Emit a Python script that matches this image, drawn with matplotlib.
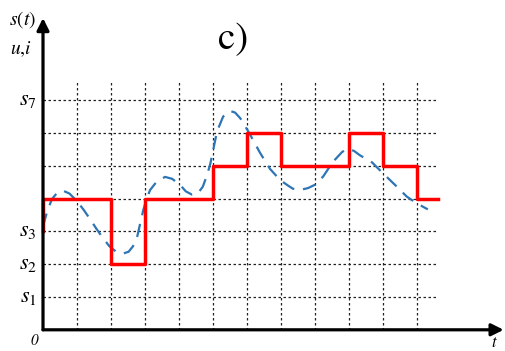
import matplotlib
matplotlib.use('Agg')
import matplotlib.pyplot as plt

# quantized signal: level held on each unit interval (starts from s3)
step_start = 3
step_edges = [0, 1, 2, 3, 4, 5, 6, 7, 8, 9, 10, 11, 11.62]
step_levels = [4, 4, 2, 4, 4, 5, 6, 5, 5, 6, 5, 4]

# analog signal
sig_t = [0.00, 0.12, 0.26, 0.42, 0.59, 0.78, 1.00, 1.20, 1.38, 1.57, 1.76,
         1.95, 2.15, 2.35, 2.52, 2.65, 2.76, 2.85, 2.95, 3.05, 3.15, 3.34,
         3.59, 3.80, 4.03, 4.20, 4.38, 4.55, 4.70, 4.82, 4.92, 5.02, 5.12,
         5.30, 5.50, 5.65, 5.80, 5.95, 6.09, 6.38, 6.68, 6.97, 7.20, 7.35,
         7.56, 7.80, 8.00, 8.24, 8.53, 8.80, 8.97, 9.15, 9.32, 9.68, 9.97,
         10.35, 10.70, 11.00, 11.32]
sig_v = [3.15, 3.60, 3.98, 4.18, 4.24, 4.15, 3.92, 3.65, 3.38, 3.08, 2.80,
         2.55, 2.38, 2.32, 2.38, 2.55, 2.79, 3.20, 3.65, 4.00, 4.26, 4.51,
         4.66, 4.60, 4.42, 4.22, 4.12, 4.15, 4.36, 4.70, 5.05, 5.55, 6.05,
         6.50, 6.67, 6.62, 6.45, 6.20, 5.95, 5.40, 4.90, 4.57, 4.40, 4.30,
         4.26, 4.32, 4.42, 4.67, 5.12, 5.42, 5.52, 5.45, 5.32, 5.10, 4.80,
         4.42, 4.06, 3.85, 3.67]

level_labels = {7: r'$s_7$', 3: r'$s_3$', 2: r'$s_2$', 1: r'$s_1$'}
grid_levels = [1, 2, 3, 4, 5, 6, 7]
grid_times = [1, 2, 3, 4, 5, 6, 7, 8, 9, 10, 11]

plt.rcParams['mathtext.fontset'] = 'stix'

fig = plt.figure(figsize=(5.05, 3.51), dpi=100)
ax = fig.add_axes([0, 0, 1, 1])
ax.set_xlim(-1.265, 13.59)
ax.set_ylim(-0.646, 10.05)
ax.axis('off')

# grid
grid_kw = dict(color='#222222', lw=0.9, ls=(0, (2, 2)), zorder=1)
for lv in grid_levels:
    ax.plot([0, 11.62], [lv, lv], **grid_kw)
for tt in grid_times:
    ax.plot([tt, tt], [0, 7.6], **grid_kw)

# axes with arrows
ax.annotate('', xy=(13.55, 0), xytext=(0, 0),
            arrowprops=dict(arrowstyle='-|>', lw=2.3, color='black',
                            mutation_scale=18, shrinkA=0, shrinkB=0), zorder=5)
ax.annotate('', xy=(0, 9.5), xytext=(0, 0),
            arrowprops=dict(arrowstyle='-|>', lw=2.3, color='black',
                            mutation_scale=18, shrinkA=0, shrinkB=0), zorder=5)

# signals
ax.plot(sig_t, sig_v, color='#2e75b6', lw=1.6, ls=(0, (6, 4)), zorder=3)
xs = [0] + step_edges
ys = [step_start] + step_levels + [step_levels[-1]]
ax.step(xs, ys, where='post', color='#ff0000', lw=2.5, zorder=4)

# labels
for lv, txt in level_labels.items():
    ax.text(-0.18, lv, txt, ha='right', va='center', fontsize=16)
ax.text(-0.6, 9.45, r'$s(t)$', ha='center', va='center', fontsize=14)
ax.text(-0.65, 8.55, r'$u{,}i$', ha='center', va='center', fontsize=14)
ax.text(5.6, 8.85, 'c)', ha='center', va='center', fontsize=28,
        family='STIXGeneral')
ax.text(-0.25, -0.35, '0', ha='center', va='center', fontsize=11,
        family='STIXGeneral', style='italic')
ax.text(13.25, -0.40, 't', ha='center', va='center', fontsize=12,
        family='STIXGeneral', style='italic')

plt.savefig('out.png', dpi=100)
